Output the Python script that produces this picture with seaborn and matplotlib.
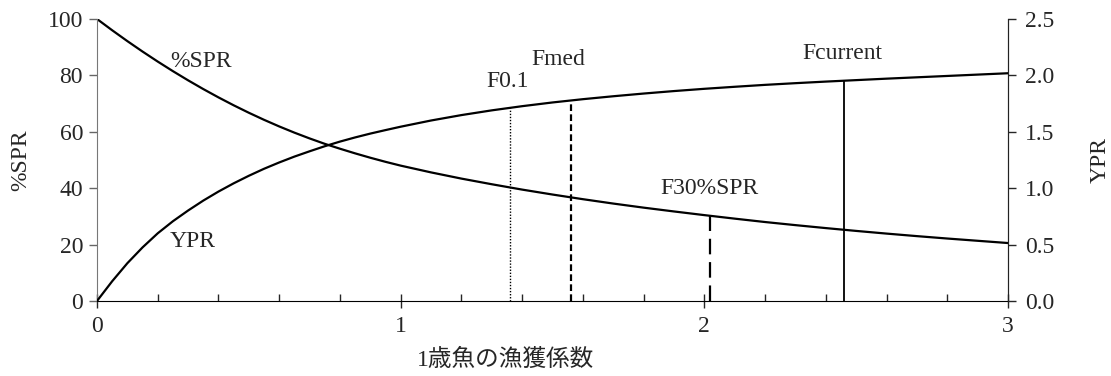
import numpy as np
import pandas as pd
import matplotlib
matplotlib.use("Agg")
import matplotlib.pyplot as plt
from matplotlib.ticker import MultipleLocator
import seaborn as sns

# Fishing mortality of age-1 fish
F = [0.0, 0.05, 0.1, 0.15, 0.2, 0.25, 0.3, 0.35, 0.4, 0.45, 0.5,
     0.55, 0.6, 0.65, 0.7, 0.75, 0.8, 0.85, 0.9, 0.95, 1.0,
     1.1, 1.2, 1.3, 1.4, 1.5, 1.6, 1.7, 1.8, 1.9, 2.0,
     2.1, 2.2, 2.3, 2.4, 2.5, 2.6, 2.7, 2.8, 2.9, 3.0]

# Spawning biomass per recruit, % of unfished level
spr_pct = [100.0, 96.0, 92.15, 88.45, 84.9, 81.5, 78.25, 75.15, 72.2, 69.4, 66.75,
           64.25, 61.9, 59.7, 57.65, 55.73, 54.0, 52.35, 50.8, 49.35, 48.0,
           45.6, 43.4, 41.4, 39.5, 37.75, 36.1, 34.55, 33.1, 31.75, 30.45,
           29.2, 28.0, 26.9, 25.85, 24.85, 23.9, 23.0, 22.15, 21.35, 20.55]

# Yield per recruit
ypr = [0.0, 0.175, 0.335, 0.475, 0.60, 0.707, 0.802, 0.89, 0.97, 1.043, 1.11,
       1.172, 1.228, 1.28, 1.327, 1.372, 1.413, 1.45, 1.484, 1.515, 1.545,
       1.60, 1.648, 1.69, 1.727, 1.76, 1.789, 1.815, 1.839, 1.861, 1.881,
       1.899, 1.916, 1.931, 1.945, 1.958, 1.971, 1.983, 1.995, 2.007, 2.019]

# Biological reference points
ref_names = ["F0.1", "Fmed", "F30%SPR", "Fcurrent"]
ref_F = [1.36, 1.56, 2.02, 2.46]
ref_top_ypr = [1.712, 1.777, None, 1.953]   # lines rising to the YPR curve
ref_top_spr = [None, None, 30.2, None]      # line rising to the %SPR curve

x_label = "1歳魚の漁獲係数"
left_label = "%SPR"
right_label = "YPR"

df = pd.DataFrame({"F": F, "spr": spr_pct, "ypr": ypr})

sns.set_style("ticks")
serif = ["Liberation Serif", "Noto Sans CJK JP"]
plt.rcParams["font.family"] = serif
plt.rcParams["font.size"] = 17
FS = 17

fig = plt.figure(figsize=(11.11, 3.76), dpi=100)
ax = fig.add_axes([0.0873, 0.1995, 0.820, 0.750])
ax2 = ax.twinx()

sns.lineplot(data=df, x="F", y="spr", ax=ax, color="black", linewidth=1.6)
sns.lineplot(data=df, x="F", y="ypr", ax=ax2, color="black", linewidth=1.6)

ax.set_xlim(0, 3)
ax.set_ylim(0, 100)
ax2.set_ylim(0, 2.5)

# Reference-point verticals
styles = [dict(linestyle=(0, (1, 1.2)), linewidth=1.0),
          dict(linestyle=(0, (3, 1.5)), linewidth=1.6),
          dict(linestyle=(0, (7, 3.5)), linewidth=1.6),
          dict(linestyle="-", linewidth=1.3)]
for f, ty, ts, st in zip(ref_F, ref_top_ypr, ref_top_spr, styles):
    if ty is not None:
        ax2.vlines(f, 0, ty, color="black", **st)
    else:
        ax.vlines(f, 0, ts, color="black", **st)

# Text labels on the plot
ax.text(0.24, 84.8, "%SPR", ha="left", va="center", fontsize=FS)
ax.text(0.24, 21.0, "YPR", ha="left", va="center", fontsize=FS)
label_pos = [(1.353, 77.8), (1.519, 85.8), (2.018, 39.8), (2.455, 87.6)]
for name, (lx, ly) in zip(ref_names, label_pos):
    ax.text(lx, ly, name, ha="center", va="center", fontsize=FS)

# Axes, ticks and spines
ax.xaxis.set_major_locator(MultipleLocator(1))
ax.xaxis.set_minor_locator(MultipleLocator(0.2))
ax.yaxis.set_major_locator(MultipleLocator(20))
ax2.yaxis.set_major_locator(MultipleLocator(0.5))
ax2.yaxis.set_major_formatter(plt.FormatStrFormatter("%.1f"))

ax.tick_params(axis="x", which="major", direction="inout", length=10, width=1,
               labelsize=FS, pad=6)
ax.tick_params(axis="x", which="minor", direction="in", length=5, width=1)
ax.tick_params(axis="y", which="major", direction="out", length=6, width=1,
               labelsize=FS, color="#666666", pad=4)
ax2.tick_params(axis="y", which="major", direction="out", length=6, width=1,
                labelsize=FS, pad=6)

for a in (ax, ax2):
    a.spines["top"].set_visible(False)
ax.spines["left"].set_color("#777777")
ax.spines["bottom"].set_color("black")
ax2.spines["right"].set_color("#222222")
ax2.spines["left"].set_visible(False)
ax2.spines["bottom"].set_visible(False)

ax.set_xlabel("")
ax.set_ylabel(left_label, fontsize=FS, labelpad=12)
ax2.set_ylabel(right_label, fontsize=FS, labelpad=26)
fig.text(506 / 1111, 1 - 360 / 376, x_label, ha="center", va="center",
         fontsize=FS, family=serif)

fig.savefig("out.png", dpi=100)
